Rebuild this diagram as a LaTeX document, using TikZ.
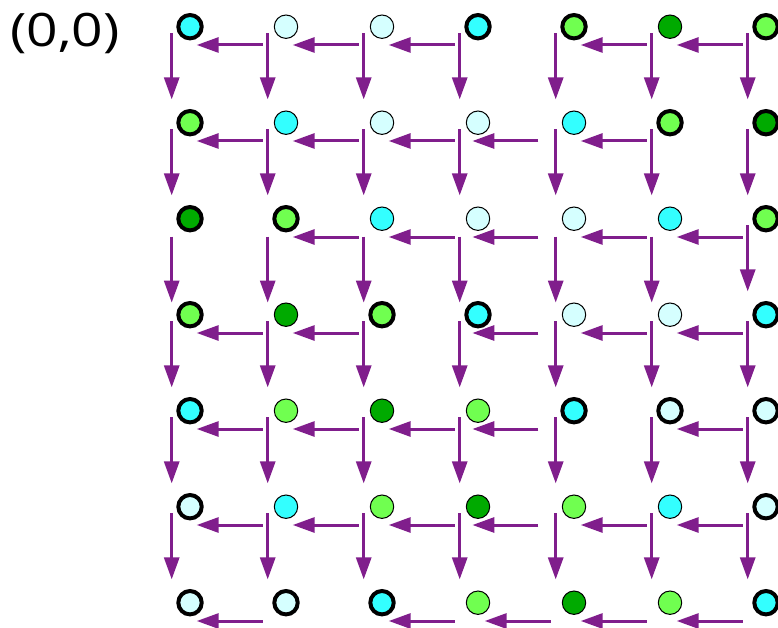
\documentclass[tikz,border=0pt]{standalone}
\usepackage{fontspec}
\newfontfamily\labelfont{Open Sans}
\usetikzlibrary{arrows.meta,calc}
\definecolor{cyanA}{RGB}{51,255,255}
\definecolor{cyanL}{RGB}{213,255,255}
\definecolor{greenL}{RGB}{112,255,80}
\definecolor{greenD}{RGB}{0,170,0}
\definecolor{arrowc}{RGB}{128,30,140}
\begin{document}
\begin{tikzpicture}[x=1pt,y=-1pt,
  ringA/.style={circle,draw=black,minimum size=23.4pt,inner sep=0pt,line width=1pt},
  ringB/.style={ringA,line width=4pt},
  link/.style={draw=arrowc,line width=3pt,-{Triangle[length=22pt,width=15pt]}}]
\useasboundingbox (0,0) rectangle (778,628);
\node[font=\labelfont\fontsize{46}{50}\selectfont,inner sep=0pt,anchor=base,xscale=1.2] (lbl) at (65,46.7) {(0,0)};
% nodes: row/col/colour/style
\foreach \r/\c/\col/\st in {
 0/0/cyanA/ringB,0/1/cyanL/ringA,0/2/cyanL/ringA,0/3/cyanA/ringB,0/4/greenL/ringB,0/5/greenD/ringA,0/6/greenL/ringB,
 1/0/greenL/ringB,1/1/cyanA/ringA,1/2/cyanL/ringA,1/3/cyanL/ringA,1/4/cyanA/ringA,1/5/greenL/ringB,1/6/greenD/ringB,
 2/0/greenD/ringB,2/1/greenL/ringB,2/2/cyanA/ringA,2/3/cyanL/ringA,2/4/cyanL/ringA,2/5/cyanA/ringA,2/6/greenL/ringB,
 3/0/greenL/ringB,3/1/greenD/ringA,3/2/greenL/ringB,3/3/cyanA/ringB,3/4/cyanL/ringA,3/5/cyanL/ringA,3/6/cyanA/ringB,
 4/0/cyanA/ringB,4/1/greenL/ringA,4/2/greenD/ringA,4/3/greenL/ringA,4/4/cyanA/ringB,4/5/cyanL/ringB,4/6/cyanL/ringB,
 5/0/cyanL/ringB,5/1/cyanA/ringA,5/2/greenL/ringA,5/3/greenD/ringA,5/4/greenL/ringA,5/5/cyanA/ringA,5/6/cyanL/ringB,
 6/0/cyanL/ringB,6/1/cyanL/ringB,6/2/cyanA/ringB,6/3/greenL/ringA,6/4/greenD/ringA,6/5/greenL/ringA,6/6/cyanA/ringB}
  \node[\st,fill=\col] (n\r-\c) at ({190+96*\c},{26.7+96*\r}) {};
% horizontal arrows: row/col/shift (from col+1 to col)
\foreach \r/\c/\s [evaluate=\c as \cc using int(\c+1)] in {
 0/0/0,0/1/0,0/2/0,0/4/0,0/5/0,
 1/0/0,1/1/0,1/2/0,1/3/-12.3,1/4/0,
 2/1/0,2/2/0,2/3/-12.3,2/4/0,2/5/0,
 3/0/0,3/1/0,3/3/-12.3,3/4/0,3/5/0,
 4/0/0,4/1/0,4/2/0,4/3/-12.3,4/5/0,
 5/0/0,5/1/0,5/2/0,5/3/-12.3,5/4/0,5/5/0,
 6/0/0,6/2/0,6/3/0,6/4/0,6/5/0}
  \draw[link] ($(n\r-\cc.center)+(-23.3+\s,18.3)$) -- ($(n\r-\c.center)+(6.7+\s,18.3)$);
% vertical arrows: row/col/shift (from row to row+1)
\foreach \r/\c/\s [evaluate=\r as \rr using int(\r+1)] in {
 0/0/0,0/1/0,0/2/0,0/3/0,0/4/0,0/5/0,0/6/0,
 1/0/0,1/1/0,1/2/0,1/3/0,1/4/0,1/5/0,1/6/0,
 2/0/11.2,2/1/11.2,2/2/11.2,2/3/11.2,2/4/11.2,2/5/11.2,2/6/0,
 3/0/0,3/1/0,3/2/0,3/3/0,3/4/0,3/5/0,3/6/0,
 4/0/0,4/1/0,4/2/0,4/3/0,4/4/0,4/5/0,4/6/0,
 5/0/0,5/1/0,5/2/0,5/3/0,5/4/0,5/5/0,5/6/0}
  \draw[link] ($(n\r-\c.center)+(-18.3,6.7+\s)$) -- ($(n\rr-\c.center)+(-18.3,-23.3+\s)$);
\end{tikzpicture}
\end{document}
